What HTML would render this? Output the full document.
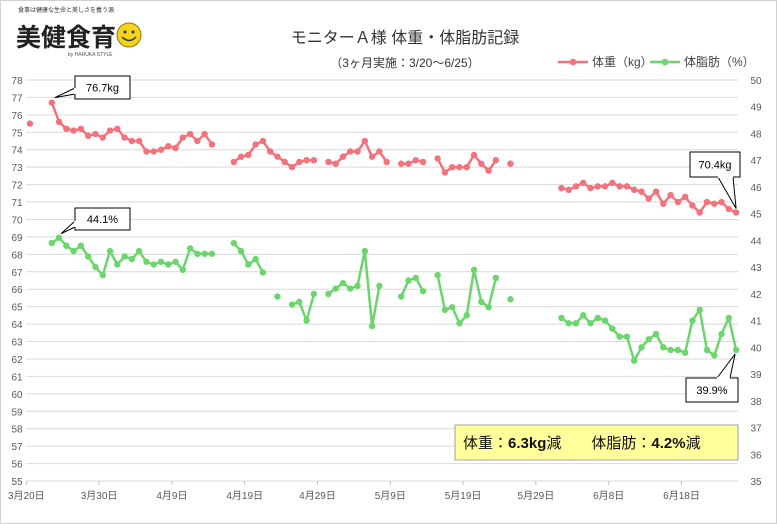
<!DOCTYPE html>
<html><head><meta charset="utf-8">
<style>
body{margin:0;background:#fff;font-family:"Liberation Sans","Noto Sans CJK JP",sans-serif;}
#wrap{position:relative;width:777px;height:524px;overflow:hidden;background:#fff;}
svg text{font-family:"Liberation Sans","Noto Sans CJK JP",sans-serif;}
</style></head>
<body>
<div id="wrap">
<svg id="chart" width="777" height="524">
<rect x="0.5" y="0.5" width="776" height="523" fill="#fff" stroke="#d0d0d0"/>
<g>
<text x="18" y="12" font-size="6" fill="#333">食事は健康な生命と美しさを養う源</text>
<text x="16" y="46" font-size="25" font-weight="bold" fill="#222">美健食育</text>
<circle cx="129" cy="35" r="12" fill="#f5d21b" stroke="#8a7a10" stroke-width="1"/>
<circle cx="125" cy="32" r="1.5" fill="#333"/><circle cx="133" cy="32" r="1.5" fill="#333"/>
<path d="M122 37 Q129 44 136 37" fill="none" stroke="#333" stroke-width="1.5"/>
<text x="68" y="56" font-size="5" fill="#555">by HARUKA STYLE</text>
</g>
<text x="405" y="43" font-size="16" text-anchor="middle" fill="#333">モニターＡ様 体重・体脂肪記録</text>
<text x="405" y="67" font-size="12" text-anchor="middle" fill="#333">（3ヶ月実施：3/20～6/25）</text>
<g>
<g>
<line x1="558" y1="62" x2="588" y2="62" stroke="#f4727c" stroke-width="2.5"/><circle cx="573" cy="62" r="3.3" fill="#f4727c"/>
<text x="592" y="66" font-size="12" fill="#444">体重（kg）</text></g>
<g>
<line x1="650" y1="62" x2="680" y2="62" stroke="#6bd66b" stroke-width="2.5"/><circle cx="665" cy="62" r="3.3" fill="#6bd66b"/>
<text x="684" y="66" font-size="12" fill="#444">体脂肪（%）</text></g>
</g>
<g id="grid"></g><g id="axes"></g><g id="series"></g><g id="callouts"></g>
<g>
<rect x="455" y="425" width="283" height="35" fill="#ffff9c" stroke="#a0a0a0" stroke-width="1"/>
<text x="463" y="448" font-size="15" fill="#111">体重：<tspan font-weight="bold">6.3kg</tspan>減　　体脂肪：<tspan font-weight="bold">4.2%</tspan>減</text>
</g>
</svg>
</div>
<script>
const xLabels=["3月20日","3月30日","4月9日","4月19日","4月29日","5月9日","5月19日","5月29日","6月8日","6月18日"];
const leftTicks=[55,56,57,58,59,60,61,62,63,64,65,66,67,68,69,70,71,72,73,74,75,76,77,78];
const rightTicks=[35,36,37,38,39,40,41,42,43,44,45,46,47,48,49,50];
const weightDays=[0,3,4,5,6,7,8,9,10,11,12,13,14,15,16,17,18,19,20,21,22,23,24,25,28,29,30,31,32,33,34,35,36,37,38,39,41,42,43,44,45,46,47,48,49,51,52,53,54,56,57,58,59,60,61,62,63,64,66,73,74,75,76,77,78,79,80,81,82,83,84,85,86,87,88,89,90,91,92,93,94,95,96,97];
const weightVals=[75.5,76.7,75.6,75.2,75.1,75.2,74.8,74.9,74.7,75.1,75.2,74.7,74.5,74.5,73.9,73.9,74.0,74.2,74.1,74.7,74.9,74.5,74.9,74.3,73.3,73.6,73.7,74.3,74.5,73.9,73.6,73.3,73.0,73.3,73.4,73.4,73.3,73.2,73.6,73.9,73.9,74.5,73.6,73.9,73.3,73.2,73.2,73.4,73.3,73.5,72.7,73.0,73.0,73.0,73.7,73.2,72.8,73.4,73.2,71.8,71.7,71.9,72.1,71.8,71.9,71.9,72.1,71.9,71.9,71.7,71.6,71.2,71.6,70.9,71.4,71.0,71.3,70.8,70.4,71.0,70.9,71.0,70.6,70.4];
const fatDays=[3,4,5,6,7,8,9,10,11,12,13,14,15,16,17,18,19,20,21,22,23,24,25,28,29,30,31,32,34,36,37,38,39,41,42,43,44,45,46,47,48,51,52,53,54,56,57,58,59,60,61,62,63,64,66,73,74,75,76,77,78,79,80,81,82,83,84,85,86,87,88,89,90,91,92,93,94,95,96,97];
const fatVals=[43.9,44.1,43.8,43.6,43.8,43.4,43.0,42.7,43.6,43.1,43.4,43.3,43.6,43.2,43.1,43.2,43.1,43.2,42.9,43.7,43.5,43.5,43.5,43.9,43.6,43.1,43.3,42.8,41.9,41.6,41.7,41.0,42.0,42.0,42.2,42.4,42.2,42.3,43.6,40.8,42.3,41.9,42.5,42.6,42.1,42.7,41.4,41.5,40.9,41.2,42.9,41.7,41.5,42.6,41.8,41.1,40.9,40.9,41.2,40.9,41.1,41.0,40.7,40.4,40.4,39.5,40.0,40.3,40.5,40.0,39.9,39.9,39.8,41.0,41.4,39.9,39.7,40.5,41.1,39.9];

const NS="http://www.w3.org/2000/svg";
const X0=26.3,DAY=7.28,XEND=738;
const xDay=d=>X0+(d+0.5)*DAY;
const xTick=i=>X0+i*10*DAY;
const yL=v=>80+(78-v)*(401/23);
const yR=v=>80+(50-v)*(401/15);
function mk(tag,attrs,parent){const e=document.createElementNS(NS,tag);for(const k in attrs)e.setAttribute(k,attrs[k]);parent.appendChild(e);return e;}
const grid=document.getElementById('grid'),axes=document.getElementById('axes'),series=document.getElementById('series'),callouts=document.getElementById('callouts');
leftTicks.forEach(v=>{
 const l=mk('line',{x1:X0,x2:XEND,y1:yL(v),y2:yL(v),stroke:'#d9d9d9','stroke-width':1},grid);
 
 
 const t=mk('text',{x:17,y:yL(v)+4,'font-size':10,'text-anchor':'middle',fill:'#595959'},axes);
 t.textContent=v;
 
 
});
rightTicks.forEach(v=>{
 const t=mk('text',{x:756,y:yR(v)+4,'font-size':10,'text-anchor':'middle',fill:'#595959'},axes);
 t.textContent=v;
 
 
});
xLabels.forEach((s,i)=>{
 const x=xTick(i);
 const tk=mk('line',{x1:x,x2:x,y1:yL(55),y2:yL(55)+4,stroke:'#bfbfbf'},axes);
 
 
 const t=mk('text',{x:x,y:499,'font-size':10,'text-anchor':'middle',fill:'#595959'},axes);
 t.textContent=s;
 
 
});
function drawSeries(days,vals,yf,color,name){
 const g=mk('g',{},series);
 
 
 let d='';
 days.forEach((day,i)=>{const cmd=(i===0||day-days[i-1]>1)?'M':'L';d+=cmd+xDay(day).toFixed(1)+' '+yf(vals[i]).toFixed(1)+' ';});
 const p=mk('path',{d:d,fill:'none',stroke:color,'stroke-width':2.5,'stroke-linejoin':'round'},g);
 
 
 days.forEach((day,i)=>{
  const c=mk('circle',{cx:xDay(day),cy:yf(vals[i]),r:3.2,fill:color},g);
  
  
 });
}
drawSeries(weightDays,weightVals,yL,'#f4727c','weight');
drawSeries(fatDays,fatVals,yR,'#6bd66b','body-fat');
function callout(bx,by,bw,bh,label,px,py,ax,ay,name){
 const g=mk('g',{},callouts);
 
 
 mk('path',{d:`M${ax[0]} ${ay[0]} L${px} ${py} L${ax[1]} ${ay[1]}`,fill:'#fff',stroke:'#000','stroke-width':1},g);
 mk('rect',{x:bx,y:by,width:bw,height:bh,fill:'#fff',stroke:'#000','stroke-width':1},g);
 mk('line',{x1:ax[0],y1:ay[0],x2:ax[1],y2:ay[1],stroke:'#fff','stroke-width':2},g);
 const t=mk('text',{x:bx+bw/2,y:by+bh/2+4,'font-size':11,'text-anchor':'middle',fill:'#000'},g);
 t.textContent=label;
}
const w0=weightVals[1],w1=weightVals[weightVals.length-1],f0=fatVals[1],f1=fatVals[fatVals.length-1];
callout(75,76,55,23,w0.toFixed(1)+'kg',xDay(weightDays[1])+3,yL(w0)-5,[75,75],[88,94],'callout-weight-start');
callout(75,208,55,22,f0.toFixed(1)+'%',xDay(fatDays[1])+2,yR(f0)-4,[75,75],[221,227],'callout-fat-start');
callout(690,152,50,25,w1.toFixed(1)+'kg',xDay(97),yL(w1)-4,[718,733],[177,177],'callout-weight-end');
callout(686,378,52,24,f1.toFixed(1)+'%',xDay(97)-1,yR(f1)+4,[717,730],[378,378],'callout-fat-end');
</script>
</body></html>
